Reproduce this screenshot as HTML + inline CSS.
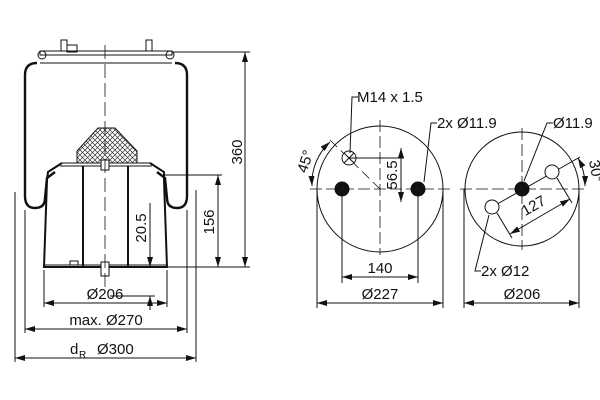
<!DOCTYPE html>
<html><head><meta charset="utf-8"><style>
html,body{margin:0;padding:0;background:#fff;width:600px;height:400px;overflow:hidden}
svg text{font-family:"Liberation Sans",sans-serif;fill:#111}
</style></head><body>
<svg width="600" height="400" viewBox="0 0 600 400" xmlns="http://www.w3.org/2000/svg">
<defs>
<marker id="a" viewBox="0 0 10 6" refX="10" refY="3" markerWidth="10" markerHeight="6" orient="auto-start-reverse" markerUnits="userSpaceOnUse"><path d="M0,0L10,3L0,6z" fill="#111"/></marker>
<pattern id="h" width="5" height="5" patternUnits="userSpaceOnUse"><path d="M0,0L5,5M5,0L0,5" stroke="#333" stroke-width="0.7"/></pattern>
</defs>
<g stroke="#111" fill="none" stroke-width="1">
<rect x="40" y="51" width="132" height="4" fill="#fff"/>
<line x1="40" y1="63" x2="172" y2="63"/>
<circle cx="42" cy="55" r="4"/><circle cx="170" cy="55" r="4"/>
<rect x="61" y="40" width="6" height="11"/><rect x="146" y="40" width="6" height="11"/>
<rect x="67" y="45" width="10" height="7"/>
<path d="M37,63 Q25,63 25,75 L25,196 Q25,208 35,208 Q45,208 45,198 L47,178 L55,172" stroke-width="2.4"/>
<path d="M175,63 Q187,63 187,75 L187,196 Q187,208 177,208 Q167,208 167,198 L165,178 L157,172" stroke-width="2.4"/>
<path d="M62,163 L150,163" />
<path d="M62,163 L48,172 L47,180 L44,267 L167,267 L164,180 L164,172 L150,163" stroke-width="2"/>
<line x1="60" y1="166" x2="152" y2="166"/>
<line x1="83" y1="166" x2="83" y2="267" stroke-width="2"/>
<line x1="128" y1="166" x2="128" y2="267" stroke-width="2"/>
<line x1="44" y1="265" x2="167" y2="265"/>
<path d="M77,151 L98,128 L115,128 L137,151 L137,163 L77,163 Z" fill="url(#h)" stroke-width="1"/>
<rect x="101" y="160" width="8" height="10" fill="#fff"/>
<rect x="101" y="262" width="8" height="14" fill="#fff"/>
<rect x="70" y="261" width="8" height="4" fill="#fff"/>
<line x1="105" y1="45" x2="105" y2="290" stroke-dasharray="14,5" stroke-width="0.8"/>
<line x1="15" y1="192" x2="15" y2="362"/>
<line x1="25" y1="210" x2="25" y2="333"/>
<line x1="44" y1="270" x2="44" y2="307"/>
<line x1="167" y1="270" x2="167" y2="307"/>
<line x1="187" y1="210" x2="187" y2="333"/>
<line x1="196" y1="190" x2="196" y2="362"/>
<line x1="172" y1="52" x2="250" y2="52"/>
<line x1="167" y1="267" x2="250" y2="267"/>
<line x1="165" y1="175" x2="222" y2="175"/>
<line x1="110" y1="296" x2="155" y2="296"/>
<line x1="245" y1="52" x2="245" y2="267" marker-start="url(#a)" marker-end="url(#a)"/>
<line x1="218" y1="175" x2="218" y2="267" marker-start="url(#a)" marker-end="url(#a)"/>
<line x1="150" y1="203" x2="150" y2="267" marker-end="url(#a)"/>
<line x1="150" y1="310" x2="150" y2="296" marker-end="url(#a)"/>
<line x1="44" y1="303" x2="167" y2="303" marker-start="url(#a)" marker-end="url(#a)"/>
<line x1="25" y1="329" x2="187" y2="329" marker-start="url(#a)" marker-end="url(#a)"/>
<line x1="15" y1="358" x2="196" y2="358" marker-start="url(#a)" marker-end="url(#a)"/>
<circle cx="380" cy="189" r="63"/>
<line x1="310" y1="189" x2="450" y2="189" stroke-dasharray="12,4" stroke-width="0.8"/>
<line x1="380" y1="120" x2="380" y2="255" stroke-dasharray="12,4" stroke-width="0.8"/>
<line x1="330" y1="140" x2="380" y2="189" stroke-dasharray="10,5" stroke-width="0.8"/>
<circle cx="342" cy="189" r="7" fill="#111"/><circle cx="418" cy="189" r="7" fill="#111"/>
<circle cx="349" cy="158" r="7" fill="#fff"/>
<path d="M344,153L354,163M354,153L344,163"/>
<line x1="349" y1="158" x2="404" y2="158"/>
<line x1="401" y1="148" x2="401" y2="202" marker-start="url(#a)" marker-end="url(#a)"/>
<line x1="342" y1="196" x2="342" y2="283"/><line x1="418" y1="196" x2="418" y2="283"/>
<line x1="317" y1="189" x2="317" y2="308"/><line x1="443" y1="189" x2="443" y2="308"/>
<line x1="342" y1="277" x2="418" y2="277" marker-start="url(#a)" marker-end="url(#a)"/>
<line x1="317" y1="303" x2="443" y2="303" marker-start="url(#a)" marker-end="url(#a)"/>
<path d="M330,142 A56,56 0 0 0 312,186" marker-start="url(#a)" marker-end="url(#a)"/>
<path d="M350,153 L352,97 L358,97"/>
<path d="M424,182 L431,123 L437,123"/>
<circle cx="522" cy="189" r="57"/>
<line x1="460" y1="189" x2="585" y2="189" stroke-dasharray="12,4" stroke-width="0.8"/>
<line x1="522" y1="128" x2="522" y2="250" stroke-dasharray="12,4" stroke-width="0.8"/>
<circle cx="522" cy="189" r="7" fill="#111"/>
<line x1="492" y1="207" x2="580" y2="157"/>
<circle cx="492" cy="207" r="7" fill="#fff"/><circle cx="552" cy="172" r="7" fill="#fff"/>
<line x1="497" y1="213" x2="512" y2="238"/><line x1="557" y1="178" x2="572" y2="203"/>
<line x1="510" y1="234" x2="570" y2="199" marker-start="url(#a)" marker-end="url(#a)"/>
<path d="M578,158 A58,58 0 0 1 585,186" marker-start="url(#a)" marker-end="url(#a)"/>
<path d="M524,181 L547,123 L553,123"/>
<path d="M489,215 L475,271 L481,271"/>
<line x1="464" y1="189" x2="464" y2="308"/><line x1="579" y1="189" x2="579" y2="308"/>
<line x1="464" y1="303" x2="579" y2="303" marker-start="url(#a)" marker-end="url(#a)"/>
</g>
<g font-size="15">
<text transform="translate(242,152) rotate(-90)" text-anchor="middle">360</text>
<text transform="translate(214,222) rotate(-90)" text-anchor="middle">156</text>
<text transform="translate(146,228) rotate(-90)" text-anchor="middle">20.5</text>
<text x="105" y="299" text-anchor="middle">Ø206</text>
<text x="106" y="325" text-anchor="middle">max. Ø270</text>
<text x="70" y="354">d</text><text x="79" y="358" font-size="10">R</text>
<text x="97" y="354">Ø300</text>
<text x="380" y="273" text-anchor="middle">140</text>
<text x="380" y="299" text-anchor="middle">Ø227</text>
<text x="522" y="299" text-anchor="middle">Ø206</text>
<text x="357" y="102">M14 x 1.5</text>
<text x="437" y="128">2x Ø11.9</text>
<text x="553" y="128">Ø11.9</text>
<text x="481" y="276">2x Ø12</text>
<text transform="translate(397,175) rotate(-90)" text-anchor="middle">56.5</text>
<text transform="translate(310,163) rotate(-72)" text-anchor="middle">45°</text>
<text transform="translate(591,172) rotate(80)" text-anchor="middle">30°</text>
<text transform="translate(536,210) rotate(-30)" text-anchor="middle">127</text>
</g>
</svg>
</body></html>
